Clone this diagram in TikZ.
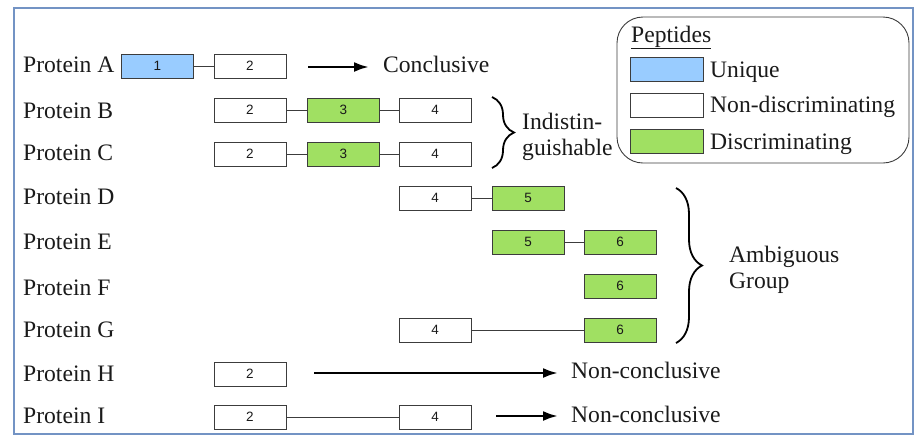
\documentclass[tikz,border=0pt]{standalone}
\usepackage{fontspec}
\setmainfont{Liberation Serif}
\newfontfamily\numfont{Liberation Sans}
\usetikzlibrary{arrows.meta,decorations.pathreplacing}
\definecolor{frameblue}{HTML}{7393C4}
\definecolor{uniqblue}{HTML}{99CCFF}
\definecolor{discgreen}{HTML}{A0E062}
\definecolor{boxedge}{HTML}{3C3C3C}
\definecolor{txt}{HTML}{1A1A1A}
\begin{document}
\begin{tikzpicture}[x=1pt,y=-1pt,
  pep/.style={draw=boxedge,line width=0.9pt,minimum width=72pt,minimum height=24pt,inner sep=0pt,font=\numfont\fontsize{13.5}{13.5}\selectfont,text=txt},
  nd/.style={pep,fill=white},
  uq/.style={pep,fill=uniqblue},
  dc/.style={pep,fill=discgreen},
  lbl/.style={inner sep=0pt,anchor=base west,font=\rmfamily\fontsize{23.6}{27}\selectfont,text=txt},
  conn/.style={draw=boxedge,line width=0.8pt},
  bigarrow/.style={draw=black,line width=2.6pt,-{Latex[length=15pt,width=10pt]}},
  bracestyle/.style={draw=black,line width=1.8pt,decorate}
]
\useasboundingbox (0,0) rectangle (921,440);
\draw[frameblue,line width=1.5pt] (14,8) rectangle (913,434);

% legend
\draw[draw=boxedge,line width=0.9pt,rounded corners=26pt] (617,17) rectangle (909,163);
\node[lbl] (pept) at (631,42) {\underline{Peptides}};
\node[uq,minimum width=73pt] (lu) at (666.5,69) {};
\node[nd,minimum width=73pt] (ln) at (666.5,105) {};
\node[dc,minimum width=73pt] (ld) at (666.5,141) {};
\node[lbl] (tu) at (710,77) {Unique};
\node[lbl] (tn) at (710,112) {Non-discriminating};
\node[lbl] (td) at (710,149) {Discriminating};

% protein labels
\node[lbl] (pA) at (23,72) {Protein A};
\node[lbl] (pB) at (23,118) {Protein B};
\node[lbl] (pC) at (23,160) {Protein C};
\node[lbl] (pD) at (23,204) {Protein D};
\node[lbl] (pE) at (23,249) {Protein E};
\node[lbl] (pF) at (23,295) {Protein F};
\node[lbl] (pG) at (23,337) {Protein G};
\node[lbl] (pH) at (23,381) {Protein H};
\node[lbl] (pI) at (23,423) {Protein I};

% Protein A
\node[uq] (a1) at (157.5,66) {1};
\node[nd] (a2) at (250,66) {2};
\draw[conn] (a1) -- (a2);
\node[lbl] (concl) at (383,72) {Conclusive};
\coordinate (aStart) at (308,67);
\coordinate (aEnd) at (369,67);
\draw[bigarrow] (aStart) -- (aEnd);
% Protein B
\node[nd] (b2) at (250,110) {2};
\node[dc] (b3) at (343.5,110) {3};
\node[nd] (b4) at (435,110) {4};
\draw[conn] (b2) -- (b3) (b3) -- (b4);
% Protein C
\node[nd] (c2) at (250,154) {2};
\node[dc] (c3) at (343.5,154) {3};
\node[nd] (c4) at (435,154) {4};
\draw[conn] (c2) -- (c3) (c3) -- (c4);
% Protein D
\node[nd] (d4) at (435,198) {4};
\node[dc] (d5) at (528,198) {5};
\draw[conn] (d4) -- (d5);
% Protein E
\node[dc] (e5) at (528,242) {5};
\node[dc] (e6) at (620,242) {6};
\draw[conn] (e5) -- (e6);
% Protein F
\node[dc] (f6) at (620,286) {6};
% Protein G
\node[nd] (g4) at (435,330) {4};
\node[dc] (g6) at (620,330) {6};
\draw[conn] (g4) -- (g6);
% Protein H
\node[nd] (h2) at (250,374) {2};
\node[lbl] (hnc) at (571,378) {Non-conclusive};
\coordinate (hStart) at (314,373);
\coordinate (hEnd) at (558,373);
\draw[bigarrow] (hStart) -- (hEnd);
% Protein I
\node[nd] (i2) at (250,417) {2};
\node[nd] (i4) at (435,417) {4};
\draw[conn] (i2) -- (i4);
\node[lbl] (inc) at (571,422) {Non-conclusive};
\coordinate (iStart) at (496,416);
\coordinate (iEnd) at (558,416);
\draw[bigarrow] (iStart) -- (iEnd);

% braces
\coordinate (br1t) at (492,97);
\coordinate (br1b) at (492,168);
\draw[bracestyle,decoration={brace,amplitude=22pt}] (br1t) -- (br1b);
\node[lbl] (ind1) at (522,129) {Indistin-};
\node[lbl] (ind2) at (522,155) {guishable};
\coordinate (br2t) at (676,188);
\coordinate (br2b) at (676,343);
\draw[bracestyle,decoration={brace,amplitude=26pt}] (br2t) -- (br2b);
\node[lbl] (amb1) at (729,262) {Ambiguous};
\node[lbl] (amb2) at (729,288) {Group};
\end{tikzpicture}
\end{document}
